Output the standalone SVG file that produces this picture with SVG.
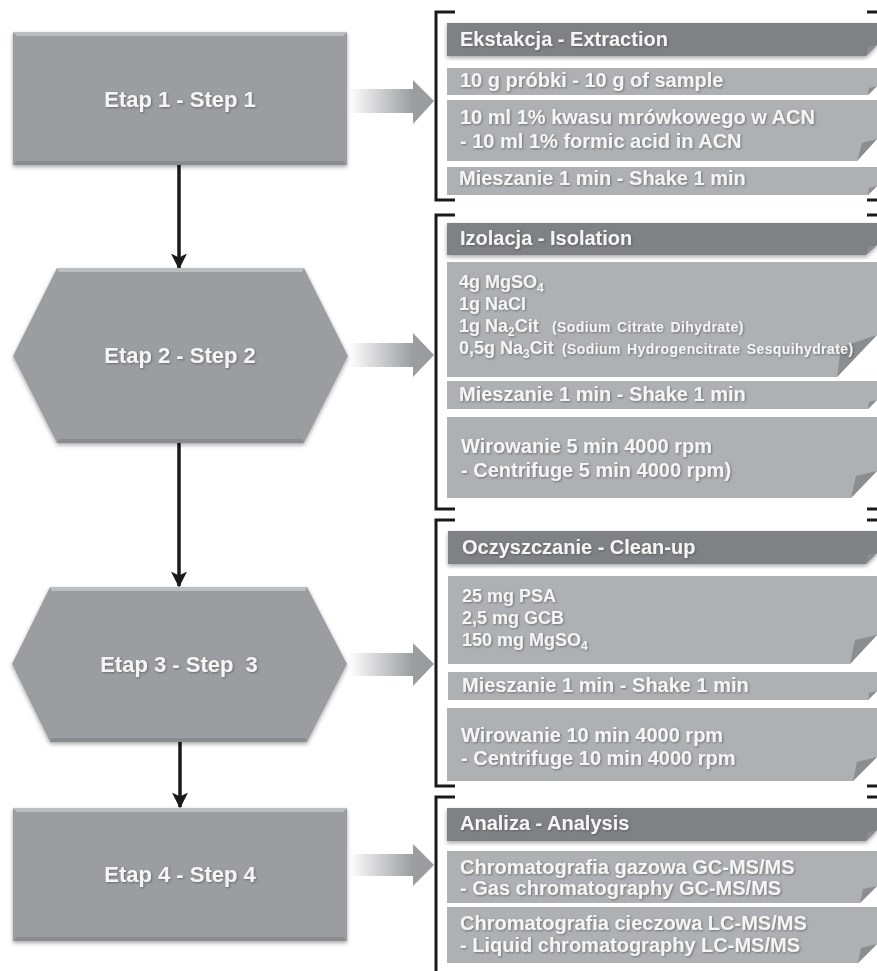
<svg xmlns="http://www.w3.org/2000/svg" width="877" height="971" viewBox="0 0 877 971">
<defs>
<style>
text{font-family:"Liberation Sans",Arial,sans-serif;font-weight:bold;fill:#f5f5f5;}
.step{font-size:22px;text-anchor:middle;white-space:pre;}
.h{font-size:20px;}
.t{font-size:20px;}
.s{font-size:18px;}
.sub{font-size:12px;}
.p{font-size:14px;letter-spacing:0.4px;word-spacing:2px;}
.box{fill:#9c9da1;}
.hdr{fill:#808185;}
.row{fill:#afb0b3;}
.flap{fill:#8c8d90;}
.br{fill:none;stroke:#1a1a1a;stroke-width:3;}
.con{stroke:#1a1a1a;stroke-width:3.5;fill:none;}
.hi{fill:#bdbec1;}
.lo{fill:#8a8b8f;}
</style>
<linearGradient id="ga" x1="0" y1="0" x2="1" y2="0">
<stop offset="0" stop-color="#ffffff"/>
<stop offset="0.75" stop-color="#9c9da1"/>
<stop offset="1" stop-color="#9a9b9f"/>
</linearGradient>
<filter id="sh" x="-5%" y="-5%" width="110%" height="120%">
<feDropShadow dx="0" dy="2" stdDeviation="2" flood-color="#000" flood-opacity="0.35"/>
</filter>
<filter id="ts" x="-5%" y="-20%" width="110%" height="140%">
<feDropShadow dx="1" dy="1" stdDeviation="0.8" flood-color="#444" flood-opacity="0.6"/>
</filter>
<marker id="ah" viewBox="0 0 10 10" refX="9" refY="5" markerWidth="4.6" markerHeight="4.6" orient="auto" markerUnits="strokeWidth">
<path d="M0,0 L10,5 L0,10 L2.5,5 z" fill="#1a1a1a"/>
</marker>
</defs>
<rect width="877" height="971" fill="#ffffff"/>

<g id="connectors">
<line class="con" x1="179" y1="165" x2="179" y2="268" marker-end="url(#ah)"/>
<line class="con" x1="179" y1="443" x2="179" y2="586" marker-end="url(#ah)"/>
<line class="con" x1="180" y1="742" x2="180" y2="807" marker-end="url(#ah)"/>
<path fill="url(#ga)" d="M349,89 H413 V80 L434,101 L413,124 V113 H349 Z"/>
<path fill="url(#ga)" d="M349,343 H413 V333 L434,355 L413,377 V367 H349 Z"/>
<path fill="url(#ga)" d="M349,653 H413 V643 L434,664 L413,686 V676 H349 Z"/>
<path fill="url(#ga)" d="M349,854 H413 V844 L434,865 L413,886 V876 H349 Z"/>
</g>

<g id="step1">
<rect class="box" x="13" y="32" width="334" height="133" filter="url(#sh)"/>
<polygon class="hi" points="13,32 347,32 343,36 17,36"/>
<polygon class="lo" points="17,161 343,161 347,165 13,165"/>
<text class="step" x="180" y="107" filter="url(#ts)">Etap 1 - Step 1</text>
</g>
<g id="step2">
<polygon class="box" points="13,356 57,268 304,268 348,356 304,443 57,443" filter="url(#sh)"/>
<polygon class="hi" points="57,268 304,268 302,272 59,272"/>
<polygon class="lo" points="59,439 302,439 304,443 57,443"/>
<text class="step" x="180" y="363" filter="url(#ts)">Etap 2 - Step 2</text>
</g>
<g id="step3">
<polygon class="box" points="12,664 50,587 307,587 347,664 307,742 50,742" filter="url(#sh)"/>
<polygon class="hi" points="50,587 307,587 305,591 52,591"/>
<polygon class="lo" points="52,738 305,738 307,742 50,742"/>
<text class="step" x="179" y="672" filter="url(#ts)">Etap 3 - Step  3</text>
</g>
<g id="step4">
<rect class="box" x="13" y="808" width="334" height="133" filter="url(#sh)"/>
<polygon class="hi" points="13,808 347,808 343,812 17,812"/>
<polygon class="lo" points="17,937 343,937 347,941 13,941"/>
<text class="step" x="180" y="882" filter="url(#ts)">Etap 4 - Step 4</text>
</g>

<g id="panel1">
<path class="br" d="M455,12 H436 V200 H455"/>
<path class="br" d="M867,12 H877 M867,200 H877"/>
<path class="hdr" filter="url(#sh)" d="M447,23 H877 V45 L866,56 H447 Z"/>
<polygon class="flap" points="866,56 877,45 868,47"/>
<text class="h" x="460" y="46" filter="url(#ts)">Ekstakcja - Extraction</text>
<path class="row" d="M447,68 H877 V86 L868,95 H447 Z"/>
<polygon class="flap" points="868,95 877,86 869,88"/>
<text class="t" x="460" y="87" filter="url(#ts)">10 g próbki - 10 g of sample</text>
<path class="row" d="M447,100 H877 V139 L857,161 H447 Z"/>
<polygon class="flap" points="857,161 877,139 862,143"/>
<text class="t" x="460" y="124" filter="url(#ts)">10 ml 1% kwasu mrówkowego w ACN</text>
<text class="t" x="460" y="148" filter="url(#ts)">- 10 ml 1%  formic acid in ACN</text>
<path class="row" d="M447,167 H877 V186 L868,195 H447 Z"/>
<polygon class="flap" points="868,195 877,186 869,188"/>
<text class="t" x="459" y="185" filter="url(#ts)">Mieszanie 1 min - Shake 1 min</text>
</g>

<g id="panel2">
<path class="br" d="M455,215 H436 V509 H455"/>
<path class="br" d="M867,215 H877 M867,509 H877"/>
<path class="hdr" filter="url(#sh)" d="M447,223 H877 V245 L866,255 H447 Z"/>
<polygon class="flap" points="866,255 877,245 868,247"/>
<text class="h" x="460" y="245" filter="url(#ts)">Izolacja - Isolation</text>
<path class="row" d="M447,262 H877 V335 L837,377 H447 Z"/>
<polygon class="flap" points="837,377 877,335 841,347"/>
<text class="s" x="459" y="288" filter="url(#ts)">4g MgSO<tspan class="sub" dy="4">4</tspan></text>
<text class="s" x="459" y="310" filter="url(#ts)">1g NaCl</text>
<text class="s" x="459" y="332" filter="url(#ts)">1g Na<tspan class="sub" dy="4">2</tspan><tspan dy="-4">Cit</tspan></text>
<text class="p" x="552" y="332" filter="url(#ts)">(Sodium Citrate Dihydrate)</text>
<text class="s" x="459" y="354" filter="url(#ts)">0,5g Na<tspan class="sub" dy="4">3</tspan><tspan dy="-4">Cit</tspan></text>
<text class="p" x="562" y="354" filter="url(#ts)">(Sodium Hydrogencitrate Sesquihydrate)</text>
<path class="row" d="M447,381 H877 V400 L868,409 H447 Z"/>
<polygon class="flap" points="868,409 877,400 869,402"/>
<text class="t" x="459" y="401" filter="url(#ts)">Mieszanie 1 min - Shake 1 min</text>
<path class="row" d="M447,417 H877 V471 L851,498 H447 Z"/>
<polygon class="flap" points="851,498 877,471 856,476"/>
<text class="t" x="461" y="453" filter="url(#ts)">Wirowanie 5 min 4000 rpm</text>
<text class="t" x="461" y="477" filter="url(#ts)">- Centrifuge 5 min 4000 rpm)</text>
</g>

<g id="panel3">
<path class="br" d="M455,520 H436 V786 H455"/>
<path class="br" d="M867,520 H877 M867,786 H877"/>
<path class="hdr" filter="url(#sh)" d="M448,531 H877 V553 L866,564 H448 Z"/>
<polygon class="flap" points="866,564 877,553 868,555"/>
<text class="h" x="462" y="554" filter="url(#ts)">Oczyszczanie - Clean-up</text>
<path class="row" d="M448,576 H877 V635 L850,664 H448 Z"/>
<polygon class="flap" points="850,664 877,635 855,640"/>
<text class="s" x="462" y="602" filter="url(#ts)">25 mg PSA</text>
<text class="s" x="462" y="624" filter="url(#ts)">2,5 mg GCB</text>
<text class="s" x="462" y="646" filter="url(#ts)">150 mg MgSO<tspan class="sub" dy="4">4</tspan></text>
<path class="row" d="M448,672 H877 V691 L868,700 H448 Z"/>
<polygon class="flap" points="868,700 877,691 869,693"/>
<text class="t" x="462" y="692" filter="url(#ts)">Mieszanie 1 min - Shake 1 min</text>
<path class="row" d="M447,708 H877 V757 L853,781 H447 Z"/>
<polygon class="flap" points="853,781 877,757 857,762"/>
<text class="t" x="461" y="742" filter="url(#ts)">Wirowanie 10 min 4000 rpm</text>
<text class="t" x="461" y="765" filter="url(#ts)">- Centrifuge 10 min 4000 rpm</text>
</g>

<g id="panel4">
<path class="br" d="M455,797 H436 V975"/>
<path class="br" d="M867,797 H877"/>
<path class="hdr" filter="url(#sh)" d="M447,808 H877 V830 L866,841 H447 Z"/>
<polygon class="flap" points="866,841 877,830 868,832"/>
<text class="h" x="460" y="830" filter="url(#ts)">Analiza - Analysis</text>
<path class="row" d="M447,851 H877 V886 L860,903 H447 Z"/>
<polygon class="flap" points="860,903 877,886 863,889"/>
<text class="t" x="460" y="874" filter="url(#ts)">Chromatografia gazowa GC-MS/MS</text>
<text class="t" x="460" y="895" filter="url(#ts)">- Gas chromatography GC-MS/MS</text>
<path class="row" d="M447,907 H877 V944 L858,963 H447 Z"/>
<polygon class="flap" points="858,963 877,944 861,948"/>
<text class="t" x="460" y="930" filter="url(#ts)">Chromatografia cieczowa LC-MS/MS</text>
<text class="t" x="460" y="952" filter="url(#ts)">- Liquid chromatography LC-MS/MS</text>
</g>
</svg>
